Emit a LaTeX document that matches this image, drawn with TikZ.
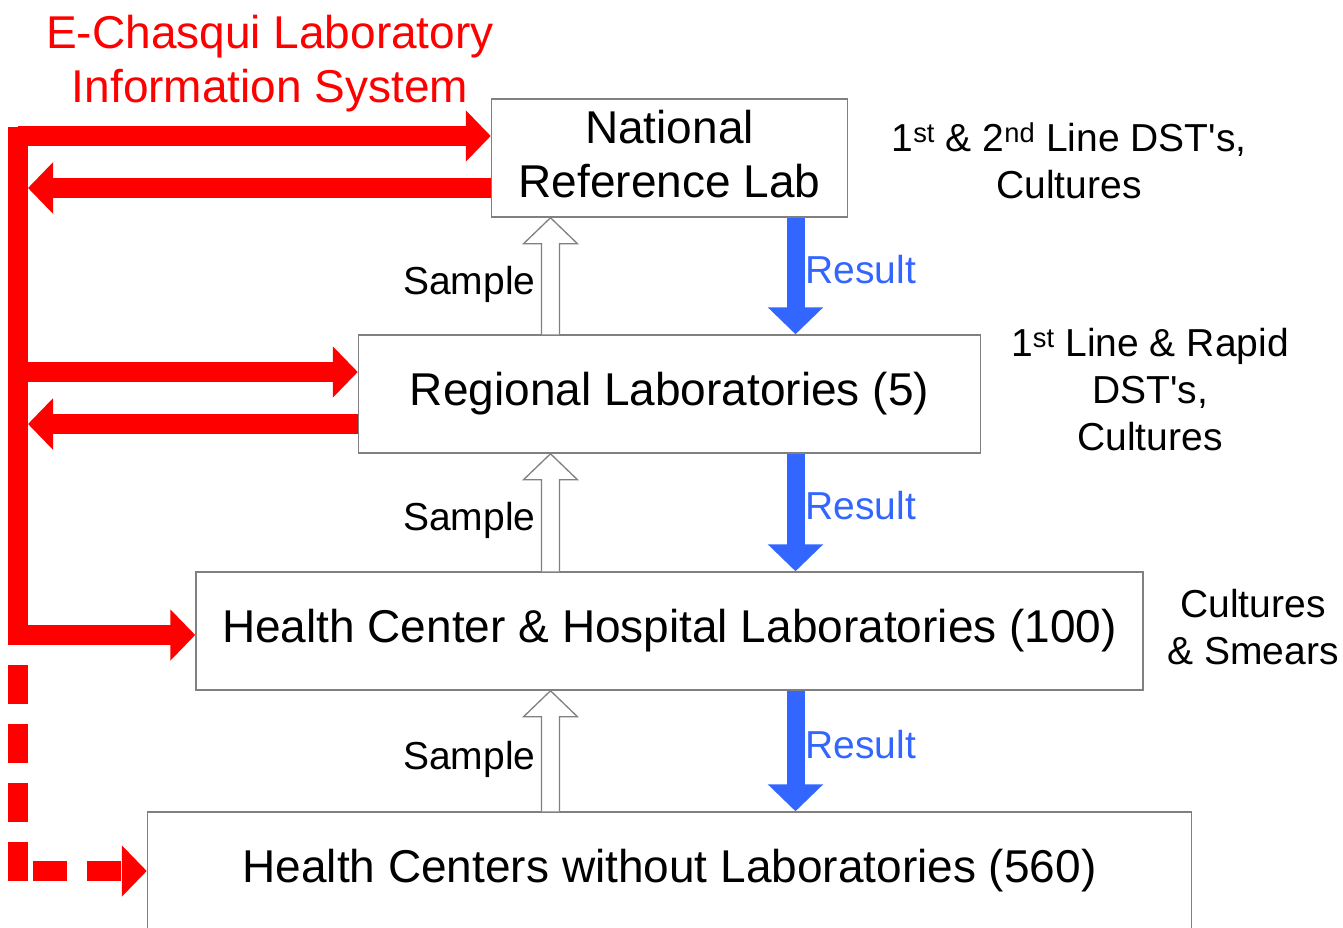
\documentclass[tikz,border=0pt]{standalone}
\usepackage{fontspec}
\setmainfont{Liberation Sans}
\usetikzlibrary{arrows.meta}
\definecolor{echred}{RGB}{255,0,0}
\definecolor{resblue}{RGB}{51,102,255}
\definecolor{boxgray}{RGB}{128,128,128}

\begin{document}
\begin{tikzpicture}[x=1pt,y=-1pt,
	lab/.style={draw=boxgray,line width=1.5pt,fill=white,inner sep=0pt,minimum height=118pt,align=center,font=\fontsize{46}{54}\selectfont},
	note/.style={align=center,font=\fontsize{39}{47}\selectfont},
	link/.style={echred,line width=20pt,-{Triangle[length=25pt,width=50pt]}},
	result/.style={resblue,line width=18pt,-{Triangle[length=27pt,width=54pt]}},
	sample/.style={draw=boxgray,line width=1.3pt,fill=white,line join=miter},
	samplelabel/.style={anchor=base east,inner sep=0pt,outer sep=0pt,xshift=-6pt,yshift=-5pt,text=black,font=\fontsize{39}{47}\selectfont},
	resultlabel/.style={anchor=base west,inner sep=0pt,outer sep=0pt,xshift=10pt,yshift=-7pt,text=resblue,font=\fontsize{39}{47}\selectfont}]
	\useasboundingbox (0,0) rectangle (1343,928);
	% the four levels
	\node[lab,minimum width=356pt,text depth=8pt] (nrl) at (669.5,158) {National\\Reference Lab};
	\node[lab,minimum width=622pt] (reg) at (669.5,394) {Regional Laboratories (5)};
	\node[lab,minimum width=947pt] (hcl) at (669.5,631) {Health Center \& Hospital Laboratories (100)};
	\node[lab,minimum width=1044pt] (hcw) at (669.5,871) {Health Centers without Laboratories (560)};

	\node[align=center,text=echred,font=\fontsize{46}{54}\selectfont] (title) at (270,64) {E-Chasqui Laboratory\\Information System};
	\node[note] (nrlnote) at (1069,161) {1\textsuperscript{st} \& 2\textsuperscript{nd} Line DST\textquotesingle s,\\Cultures};
	\node[note] (regnote) at (1150,390) {1\textsuperscript{st} Line \& Rapid\\DST\textquotesingle s,\\Cultures};
	\node[note] (hclnote) at (1253,627) {Cultures\\\& Smears};

	% information system bus
	\coordinate (bustop) at (18,127);
	\coordinate (busbot) at (18,645);
	\coordinate (busedge) at (28,0);
	\coordinate (buscorner) at (18,882);
	\draw[echred,line width=20pt] (bustop) -- (busbot);
	\foreach \n/\dy in {nrl/22, reg/22, hcl/-4}
		\draw[link] ([yshift=\dy pt]\n.west -| bustop) -- ([yshift=\dy pt]\n.west);
	\foreach \n in {nrl, reg}
		\draw[link] ([yshift=-30pt]\n.west) -- ([yshift=-30pt]\n.west -| busedge);
	\draw[echred,line width=20pt,dash pattern=on 39pt off 20pt,dash phase=39pt] (busbot) -- (buscorner);
	\draw[link,dash pattern=on 34pt off 20pt] ([xshift=15pt]buscorner |- hcw.west) -- (hcw.west);

	% samples up, results down
	\foreach \hi/\lo in {nrl/reg, reg/hcl, hcl/hcw} {
		\draw[sample] ([xshift=-128pt]\lo.north)
			-- node[samplelabel] (smp\lo) {Sample} ([xshift=-128pt,yshift=-26pt]\hi.south)
			-- ([xshift=-146pt,yshift=-26pt]\hi.south)
			-- ([xshift=-119pt]\hi.south)
			-- ([xshift=-92pt,yshift=-26pt]\hi.south)
			-- ([xshift=-110pt,yshift=-26pt]\hi.south)
			-- ([xshift=-110pt]\lo.north);
		\draw[result] ([xshift=126pt]\hi.south) -- node[resultlabel] (res\lo) {Result} ([xshift=126pt]\hi.south |- \lo.north);
	}
\end{tikzpicture}
\end{document}
